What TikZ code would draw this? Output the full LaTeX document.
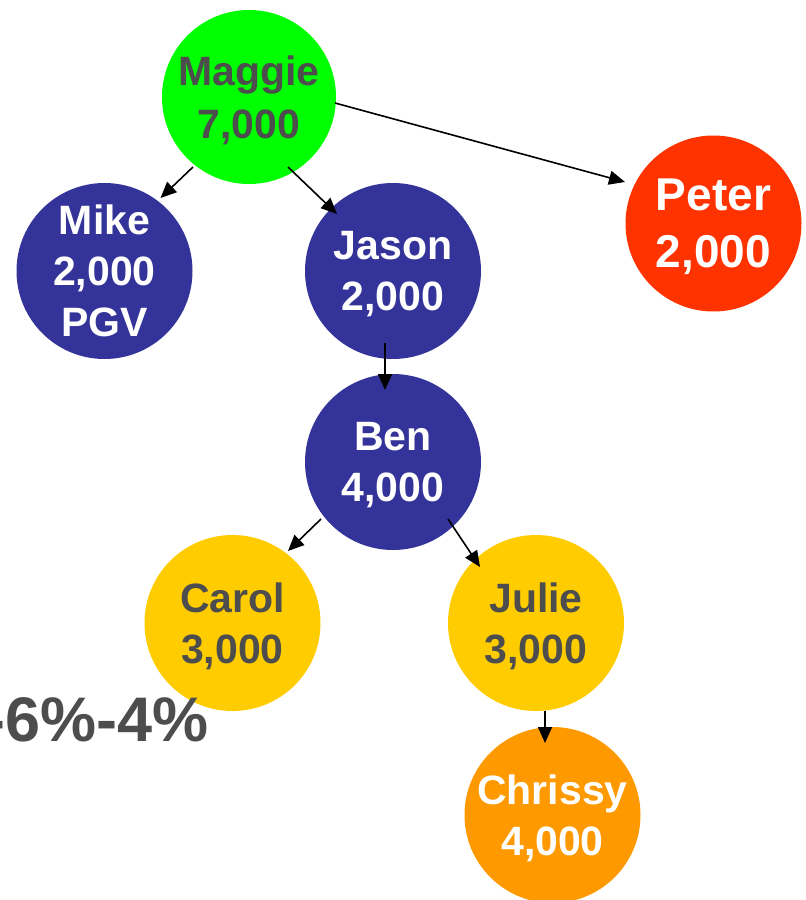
\documentclass[tikz,border=0pt]{standalone}
\usepackage{fontspec}
\setmainfont{Liberation Sans}
\usetikzlibrary{arrows.meta,calc}
\definecolor{cgreen}{HTML}{00FF00}
\definecolor{cnavy}{HTML}{333399}
\definecolor{cred}{HTML}{FF3300}
\definecolor{cyellow}{HTML}{FFCC00}
\definecolor{corange}{HTML}{FF9900}
\definecolor{cgray}{HTML}{4D4D4D}
\begin{document}
\begin{tikzpicture}[x=1pt,y=-1pt,
  person/.style={circle, inner sep=0pt, outer sep=0pt, minimum size=176pt, align=center,
    text depth=0pt, font=\bfseries\fontsize{41}{51}\selectfont},
  arr/.style={line width=1.6pt, -{Triangle[length=16pt,width=14pt]}}]
\useasboundingbox (0,0) rectangle (806,900);
\node[person, fill=cgreen, text=cgray, minimum size=174pt,
  font=\bfseries\fontsize{41}{53}\selectfont] (maggie) at (249,97) {Maggie\\7,000};
\node[person, fill=cnavy, text=white] (mike) at (104.5,271) {Mike\\2,000\\PGV};
\node[person, fill=cnavy, text=white] (jason) at (393,271) {Jason\\2,000};
\node[person, fill=cred, text=white, font=\bfseries\fontsize{46}{57}\selectfont] (peter) at (713.5,223.5) {Peter\\2,000};
\node[person, fill=cnavy, text=white] (ben) at (393,462) {Ben\\4,000};
\node[person, fill=cyellow, text=cgray] (carol) at (232.5,623) {Carol\\3,000};
\node[person, fill=cyellow, text=cgray] (julie) at (536,623) {Julie\\3,000};
\node[person, fill=corange, text=white] (chrissy) at (552.5,815) {Chrissy\\4,000};
\node[anchor=base west, inner sep=0pt, text=cgray, font=\bfseries\fontsize{63}{76}\selectfont] (pct) at (-16,741) {-6\%-4\%};
\draw[arr] ($(maggie)+(-56,70)$) -- ($(mike)+(56,-73)$);
\draw[arr] ($(maggie)+(39,70)$) -- ($(jason)+(-56,-57)$);
\draw[arr] ($(maggie)+(86,6)$) -- ($(peter)+(-88.5,-41.5)$);
\draw[arr] ($(jason)+(-8,72)$) -- ($(ben)+(-8,-72)$);
\draw[arr] ($(ben)+(-72,57)$) -- ($(carol)+(55.5,-72)$);
\draw[arr] ($(ben)+(55,57)$) -- ($(julie)+(-56,-56)$);
\draw[arr] ($(julie)+(9,87.5)$) -- ($(chrissy)+(-7.5,-72)$);
\end{tikzpicture}
\end{document}
